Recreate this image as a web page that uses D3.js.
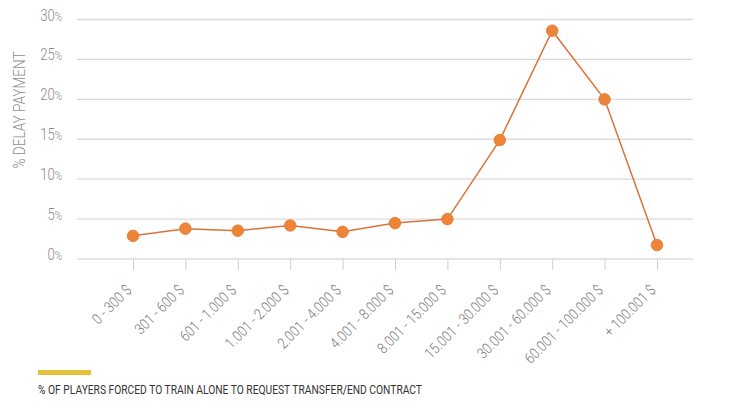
<!DOCTYPE html>
<html>
<head>
<meta charset="utf-8">
<script src="https://cdn.jsdelivr.net/npm/d3@7"></script>
<style>
  html, body { margin: 0; padding: 0; background: #fff; }
  svg text { font-family: Roboto, "Liberation Sans", sans-serif; }
</style>
</head>
<body>
<svg id="chart" width="730" height="410"></svg>
<script>
const categories = ["0 - 300 $", "301 - 600 $", "601 - 1.000 $", "1.001 - 2.000 $", "2.001 - 4.000 $",
  "4.001 - 8.000 $", "8.001 - 15.000 $", "15.001 - 30.000 $", "30.001 - 60.000 $", "60.001 - 100.000 $", "+ 100.001 $"];
const values = [2.9, 3.8, 3.55, 4.2, 3.4, 4.5, 5.0, 14.9, 28.6, 20.0, 1.75];
const yTicks = [0, 5, 10, 15, 20, 25, 30];
const yTitle = "% DELAY PAYMENT";
const legendLabel = "% OF PLAYERS FORCED TO TRAIN ALONE TO REQUEST TRANSFER/END CONTRACT";

const svg = d3.select("#chart");
const gridLeft = 77, gridRight = 693;
const x = d3.scalePoint().domain(categories).range([133, 657]);
const y = d3.scaleLinear().domain([0, 30]).range([259, 19.5]);

// gridlines
svg.append("g").selectAll("line").data(yTicks).join("line")
  .attr("x1", gridLeft).attr("x2", gridRight)
  .attr("y1", d => y(d)).attr("y2", d => y(d))
  .attr("stroke", "#dcdcdc").attr("stroke-width", 1.3);

// y tick labels
const yl = svg.append("g").selectAll("text").data(yTicks).join("text")
  .attr("transform", d => `translate(62,${y(d) + 1}) scale(0.82,1)`)
  .attr("text-anchor", "end")
  .attr("fill", "#8a8a8a")
  .attr("font-size", 16)
  .attr("font-weight", 300);
yl.append("tspan").text(d => d);
yl.append("tspan").attr("font-size", 12).text("%");

// y title
svg.append("text")
  .attr("transform", "translate(25,110) rotate(-90) scale(0.85,1)")
  .attr("text-anchor", "middle")
  .attr("fill", "#8f8f8f")
  .attr("font-size", 16)
  .attr("font-weight", 300)
  .text(yTitle);

// x axis
const xAxis = d3.axisBottom(x).tickSize(11).tickPadding(0);
const gx = svg.append("g").attr("transform", "translate(0,259)").call(xAxis);
gx.select(".domain").remove();
gx.selectAll(".tick line").attr("stroke", "#cfcfcf").attr("stroke-width", 1);
gx.selectAll(".tick text")
  .attr("fill", "#7a7a7a")
  .attr("font-size", 15)
  .attr("font-weight", 300)
  .attr("font-family", "Roboto, sans-serif")
  .attr("text-anchor", "end")
  .attr("dy", 0)
  .attr("x", 0).attr("y", 0)
  .attr("transform", "translate(-1,32) rotate(-45) scale(0.85,1)");

// line
const line = d3.line().x((d, i) => x(categories[i])).y(d => y(d));
svg.append("path").datum(values)
  .attr("d", line)
  .attr("fill", "none")
  .attr("stroke", "#d9733a")
  .attr("stroke-width", 1.5);

// dots
svg.append("g").selectAll("circle").data(values).join("circle")
  .attr("cx", (d, i) => x(categories[i]))
  .attr("cy", d => y(d))
  .attr("r", 5.8)
  .attr("fill", "#ed8437")
  .attr("stroke", "#e07a35")
  .attr("stroke-width", 0.8);

// legend
svg.append("rect")
  .attr("x", 38).attr("y", 370).attr("width", 53).attr("height", 5)
  .attr("fill", "#e5c03a");
svg.append("text")
  .attr("x", 38).attr("y", 394)
  .attr("fill", "#333")
  .attr("font-size", 12.5)
  .attr("textLength", 384)
  .attr("lengthAdjust", "spacingAndGlyphs")
  .text(legendLabel);
</script>
</body>
</html>
